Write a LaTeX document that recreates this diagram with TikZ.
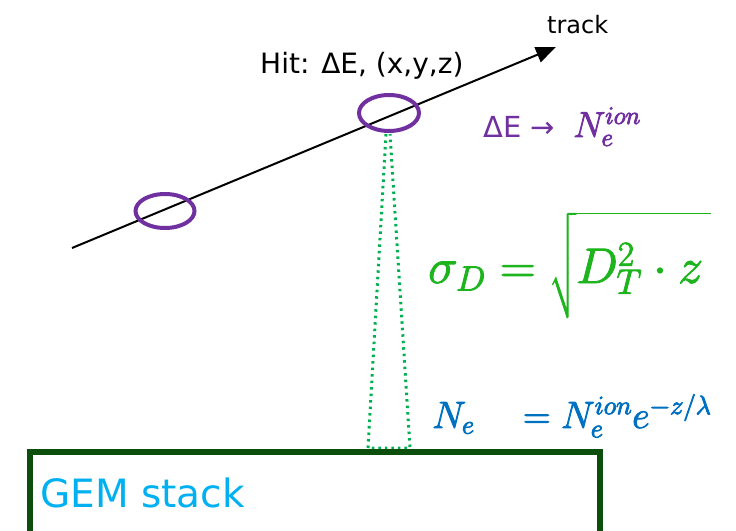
\RequirePackage{fix-cm}
\documentclass[tikz,border=0pt]{standalone}
\usepackage{amsmath}
\usepackage{fontspec}
\setsansfont{DejaVu Sans}
\usetikzlibrary{arrows.meta,shapes.geometric}
\definecolor{hitpurple}{RGB}{112,48,160}
\definecolor{driftgreen}{RGB}{0,176,80}
\definecolor{eqgreen}{RGB}{30,180,30}
\definecolor{eqblue}{RGB}{0,112,192}
\definecolor{gemcyan}{RGB}{0,176,240}
\definecolor{gemframe}{RGB}{12,78,12}
\newcommand{\heavytext}[1]{{\special{pdf:literal direct 2 Tr 0.9 w}#1\special{pdf:literal direct 0 Tr}}}
\tikzset{
  hit/.style={draw=hitpurple, line width=4pt, ellipse, minimum width=60pt, minimum height=36pt, inner sep=0pt},
  drift/.style={draw=driftgreen, line width=3pt, dash pattern=on 2.5pt off 4pt},
  lbl/.style={font=\sffamily, inner sep=0pt},
}
\begin{document}
\begin{tikzpicture}[x=1pt,y=-1pt]
\useasboundingbox (0,0) rectangle (736,530);
% track
\coordinate (tstart) at (72,248);
\coordinate (tend) at (556,47);
\draw[line width=2pt, -{Triangle[length=20pt,width=16pt]}] (tstart) -- (tend);
\node[lbl, font=\sffamily\fontsize{24}{28}\selectfont, anchor=base west] (track) at (547,33) {track};
\node[lbl, font=\sffamily\fontsize{28}{32}\selectfont, anchor=base west] (hitlbl) at (260,73) {Hit: \char"0394 E, (x,y,z)};
% hits
\node[hit, minimum width=59pt, minimum height=34pt] (h1) at (165,211) {};
\node[hit] (h2) at (389,113) {};
% drift cone
\coordinate (ctl) at (386,134);
\coordinate (ctr) at (390,134);
\coordinate (cbl) at (368,448);
\coordinate (cbr) at (410,448);
\draw[drift] (ctl) -- (cbl) -- (cbr) -- (ctr);
% GEM stack
\draw[draw=gemframe, line width=6pt] (30,540) -- (30,452) -- (600,452) -- (600,540);
\node[lbl, text=gemcyan, font=\sffamily\fontsize{39}{44}\selectfont, anchor=base west] (gem) at (40,507) {GEM stack};
% equations
\node[lbl, text=hitpurple, font=\sffamily\fontsize{29}{34}\selectfont, anchor=base west] (deq) at (483,137) {\char"0394 E \char"2192\ \ {\fontsize{36}{40}\selectfont\heavytext{$N_e^{ion}$}}};
\node[lbl, text=eqgreen, font=\fontsize{50}{58}\selectfont, anchor=base west] (sig) at (428,283) {\heavytext{$\sigma_D = \sqrt{\rule[-0.6em]{0pt}{1.85em}D_T^2\cdot z\,}$}};
\node[lbl, text=eqblue, font=\fontsize{38}{44}\selectfont, anchor=base west] (ne) at (432,428) {\heavytext{$N_e\quad = N_e^{ion} e^{-z/\lambda}$}};
\end{tikzpicture}
\end{document}
